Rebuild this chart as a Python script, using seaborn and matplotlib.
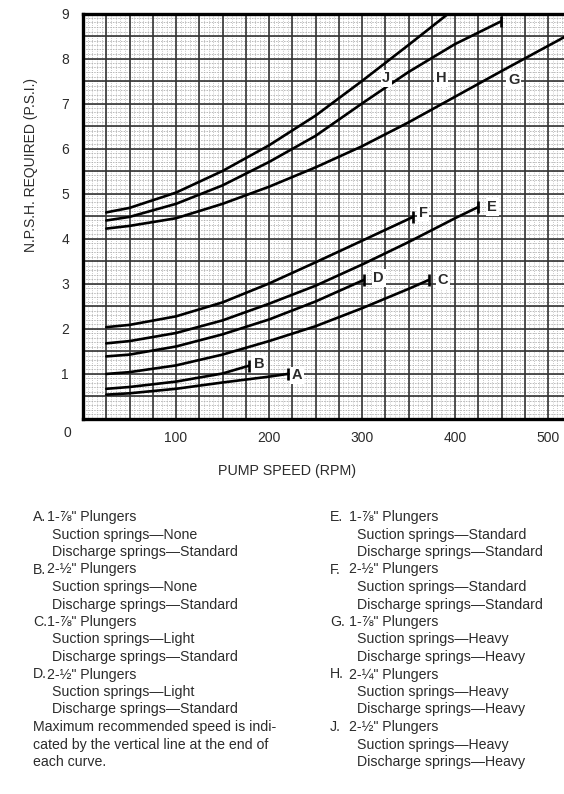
import numpy as np
import pandas as pd
import matplotlib
matplotlib.use("Agg")
import matplotlib.pyplot as plt
import seaborn as sns

# ---------------- data ----------------
rpm_A = [25, 50, 100, 150, 200, 220]
npsh_A = [0.53, 0.56, 0.66, 0.80, 0.93, 0.99]
rpm_B = [25, 50, 100, 150, 178]
npsh_B = [0.66, 0.70, 0.82, 1.00, 1.17]
rpm_C = [25, 50, 100, 150, 200, 250, 300, 350, 372]
npsh_C = [0.99, 1.03, 1.18, 1.42, 1.72, 2.05, 2.45, 2.88, 3.08]
rpm_D = [25, 50, 100, 150, 200, 250, 302]
npsh_D = [1.38, 1.42, 1.60, 1.87, 2.20, 2.60, 3.08]
rpm_E = [25, 50, 100, 150, 200, 250, 300, 350, 400, 425]
npsh_E = [1.67, 1.72, 1.90, 2.18, 2.55, 2.95, 3.42, 3.92, 4.45, 4.70]
rpm_F = [25, 50, 100, 150, 200, 250, 300, 355]
npsh_F = [2.03, 2.08, 2.27, 2.58, 3.00, 3.47, 3.95, 4.48]
rpm_G = [25, 50, 100, 150, 200, 250, 300, 350, 400, 450, 500, 560]
npsh_G = [4.22, 4.28, 4.45, 4.77, 5.15, 5.58, 6.05, 6.58, 7.15, 7.72, 8.28, 8.95]
rpm_H = [25, 50, 100, 150, 200, 250, 300, 350, 400, 449]
npsh_H = [4.40, 4.48, 4.77, 5.18, 5.70, 6.28, 7.00, 7.70, 8.32, 8.82]
rpm_J = [25, 50, 100, 150, 200, 250, 300, 350, 393]
npsh_J = [4.58, 4.68, 5.02, 5.50, 6.07, 6.73, 7.50, 8.30, 9.00]

curve_keys = ["A", "B", "C", "D", "E", "F", "G", "H", "J"]
curve_rpm = [rpm_A, rpm_B, rpm_C, rpm_D, rpm_E, rpm_F, rpm_G, rpm_H, rpm_J]
curve_npsh = [npsh_A, npsh_B, npsh_C, npsh_D, npsh_E, npsh_F, npsh_G, npsh_H, npsh_J]
# curves whose maximum-speed marker is visible
marked = ["A", "B", "C", "D", "E", "F", "H"]
# label anchor points (rpm, psi)
label_rpm = [230, 189, 387, 318, 440, 366, 463, 385, 326]
label_psi = [0.96, 1.21, 3.07, 3.12, 4.70, 4.56, 7.52, 7.56, 7.56]

x_ticks = [100, 200, 300, 400, 500]
y_ticks = [1, 2, 3, 4, 5, 6, 7, 8, 9]
x_title = "PUMP SPEED (RPM)"
y_title = "N.P.S.H. REQUIRED (P.S.I.)"

plungers = ['1-⅞" Plungers', '2-½" Plungers', '1-⅞" Plungers', '2-½" Plungers',
            '1-⅞" Plungers', '2-½" Plungers', '1-⅞" Plungers', '2-¼" Plungers',
            '2-½" Plungers']
suction = ["None", "None", "Light", "Light", "Standard", "Standard",
           "Heavy", "Heavy", "Heavy"]
discharge = ["Standard", "Standard", "Standard", "Standard", "Standard",
             "Standard", "Heavy", "Heavy", "Heavy"]
note_lines = ["Maximum recommended speed is indi-",
              "cated by the vertical line at the end of",
              "each curve."]

# ---------------- figure ----------------
sns.set_theme(style="white")
plt.rcParams["font.family"] = ["Liberation Sans", "DejaVu Sans"]
TXT = "#2b2b2b"

W, H = 564, 794
fig = plt.figure(figsize=(W / 100, H / 100), dpi=100)
x0, sx = 83.0, 0.93          # pixel of rpm 0, px per rpm
y0, sy = 418.5, 45.0         # pixel of psi 0, px per psi
right_px = 600
ax = fig.add_axes([x0 / W, 1 - y0 / H, (right_px - x0) / W, 9 * sy / H])
ax.set_xlim(0, (right_px - x0) / sx)
ax.set_ylim(0, 9)

# background texture (fine paper grid)
for v in np.arange(0, 560, 5):
    ax.axvline(v, color="#a8a8a8", lw=0.55, ls=(0, (1.0, 1.8)), zorder=0)
for v in np.arange(0, 9, 0.1):
    ax.axhline(v, color="#a8a8a8", lw=0.55, ls=(0, (2.0, 1.5)), zorder=0)
# main grid
for v in np.arange(25, 560, 25):
    ax.axvline(v, color="#333333", lw=1.2, zorder=1)
for v in np.arange(0.5, 9, 0.5):
    ax.axhline(v, color="#333333", lw=1.2, zorder=1)

rows = []
for k, xs, ys in zip(curve_keys, curve_rpm, curve_npsh):
    for xv, yv in zip(xs, ys):
        rows.append({"curve": k, "rpm": xv, "npsh": yv})
df = pd.DataFrame(rows)
sns.lineplot(data=df, x="rpm", y="npsh", units="curve", estimator=None,
             color="black", lw=1.9, sort=False, ax=ax, legend=False, zorder=3)

for k, xs, ys in zip(curve_keys, curve_rpm, curve_npsh):
    if k in marked:
        ax.vlines(xs[-1], ys[-1] - 0.13, ys[-1] + 0.13, color="black",
                  lw=1.9, zorder=3)

for k, lx, ly in zip(curve_keys, label_rpm, label_psi):
    ax.text(lx, ly, k, ha="center", va="center", fontsize=10.5, color=TXT,
            fontweight="bold", zorder=4,
            bbox=dict(facecolor="white", edgecolor="none", pad=1.2))

ax.set_xticks(x_ticks)
ax.set_xticklabels([str(t) for t in x_ticks], fontsize=10, color=TXT)
ax.set_yticks(y_ticks)
ax.set_yticklabels([str(t) for t in y_ticks], fontsize=10, color=TXT)
ax.tick_params(axis="both", length=0)
ax.tick_params(axis="x", pad=9)
ax.tick_params(axis="y", pad=10)
ax.set_xlabel("")
ax.set_ylabel("")
for s in ["top", "left", "bottom"]:
    ax.spines[s].set_visible(True)
    ax.spines[s].set_color("black")
    ax.spines[s].set_linewidth(2.4)
ax.spines["right"].set_visible(False)

fig.text(67 / W, 1 - 433 / H, "0", ha="center", va="center",
         fontsize=10, color=TXT)
fig.text(287 / W, 1 - 471 / H, x_title, ha="center", va="center",
         fontsize=10.3, color=TXT)
fig.text(31 / W, 1 - 165 / H, y_title, ha="center", va="center",
         rotation=90, fontsize=10, color=TXT)

# ---------------- legend text ----------------
FS = 10.2
line_h = 17.5
for i, k in enumerate(curve_keys):
    if i < 4:
        cx, row = 33, i
        plx, subx = 47, 52
    else:
        cx, row = 330, i - 4
        plx, subx = 349, 357
    ytop = 517 + row * 3 * line_h
    fig.text(cx / W, 1 - ytop / H, k + ".", ha="left", va="center",
             fontsize=FS, color=TXT)
    fig.text(plx / W, 1 - ytop / H, plungers[i], ha="left", va="center",
             fontsize=FS, color=TXT)
    fig.text(subx / W, 1 - (ytop + line_h) / H, "Suction springs—" + suction[i],
             ha="left", va="center", fontsize=FS, color=TXT)
    fig.text(subx / W, 1 - (ytop + 2 * line_h) / H,
             "Discharge springs—" + discharge[i],
             ha="left", va="center", fontsize=FS, color=TXT)
for j, t in enumerate(note_lines):
    fig.text(33 / W, 1 - (727 + j * line_h) / H, t, ha="left", va="center",
             fontsize=FS, color=TXT)

fig.savefig("out.png", dpi=100)
